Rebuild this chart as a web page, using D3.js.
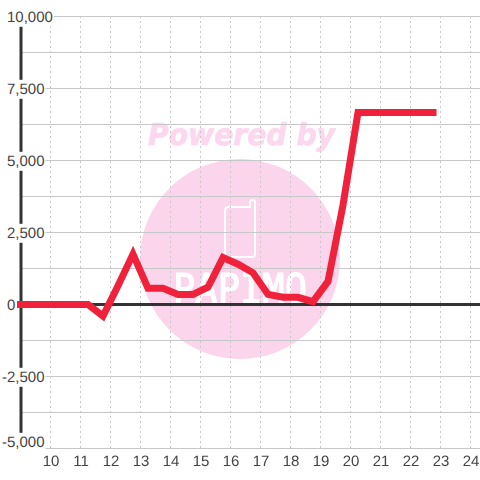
<!DOCTYPE html>
<html>
<head>
<meta charset="utf-8">
<script src="https://cdn.jsdelivr.net/npm/d3@7"></script>
<style>
html, body { margin: 0; padding: 0; background: #fff; }
svg { display: block; will-change: opacity; }
text { font-family: "Liberation Sans", Arial, sans-serif; text-rendering: geometricPrecision; }
</style>
</head>
<body>
<div id="chart"></div>
<script>
const w = 480;
const h = 480;

const hours = [9, 9.75, 10.25, 10.75, 11.25, 11.75, 12.25, 12.75, 13.25, 13.75, 14.25, 14.75, 15.25, 15.75, 16.25, 16.75, 17.25, 17.75, 18.25, 18.75, 19.25, 19.75, 20.25, 20.75, 21.25, 21.75, 22.25, 22.75];
const profit = [0, 0, 0, 0, 0, -400, 650, 1750, 560, 560, 350, 350, 600, 1630, 1400, 1100, 350, 250, 250, 100, 800, 3450, 6670, 6670, 6670, 6670, 6670, 6670];
const xTicks = [10, 11, 12, 13, 14, 15, 16, 17, 18, 19, 20, 21, 22, 23, 24];
const yLabelTicks = [-5000, -2500, 0, 2500, 5000, 7500, 10000];
const yGridTicks = [-5000, -3750, -2500, -1250, 0, 1250, 2500, 3750, 5000, 6250, 7500, 8750, 10000];

const x = d3.scaleLinear().domain([9, 24.33]).range([20.5, 480.4]);
const y = d3.scaleLinear().domain([-5000, 10000]).range([448.5, 16.5]);

const svg = d3.select('#chart').append('svg')
  .attr('width', w)
  .attr('height', h);

// watermark
const mark = svg.append('g');
mark.append('circle')
  .attr('cx', 240).attr('cy', 259).attr('r', 100)
  .attr('fill', '#fbd5ec');
mark.append('text')
  .attr('x', 148).attr('y', 145)
  .attr('textLength', 187)
  .attr('lengthAdjust', 'spacingAndGlyphs')
  .style('font-family', '"DejaVu Sans"')
  .style('font-weight', 'bold')
  .style('font-style', 'italic')
  .style('font-size', '30px')
  .attr('fill', '#fcd7ee')
  .attr('stroke', '#fcd7ee')
  .attr('stroke-width', 0.7)
  .text('Powered by');
mark.append('path')
  .attr('d', 'M229 207H250V202Q250 200 252.500 200Q255 200 255 202V254Q255 257 252 257H228Q225 257 225 254V211Q225 207 229 207Z')
  .attr('fill', 'none')
  .attr('stroke', '#fff')
  .attr('stroke-width', 2);
mark.append('text')
  .attr('x', 173).attr('y', 303)
  .attr('textLength', 134)
  .attr('lengthAdjust', 'spacingAndGlyphs')
  .style('font-family', '"DejaVu Sans Mono"')
  .style('font-size', '41px')
  .attr('fill', '#fff')
  .attr('stroke', '#fff')
  .attr('stroke-width', 1.2)
  .text('PAPIMO');

// grid
svg.append('g')
  .selectAll('line')
  .data(yGridTicks)
  .enter()
  .append('line')
  .attr('x1', 20).attr('x2', w)
  .attr('y1', d => y(d)).attr('y2', d => y(d))
  .attr('stroke', '#c8c8c8')
  .attr('stroke-width', 1);

svg.append('g')
  .selectAll('line')
  .data(xTicks)
  .enter()
  .append('line')
  .attr('x1', d => x(d)).attr('x2', d => x(d))
  .attr('y1', 16).attr('y2', 448)
  .attr('stroke', '#c8c8c8')
  .attr('stroke-width', 1)
  .attr('stroke-dasharray', '2,3');

// zero line
svg.append('line')
  .attr('x1', 20).attr('x2', w)
  .attr('y1', y(0)).attr('y2', y(0))
  .attr('stroke', '#333')
  .attr('stroke-width', 3);

// axes
const yAxis = d3.axisLeft(y).tickValues(yLabelTicks).tickSize(0).tickFormat(d => d3.format(',')(d).replace('\u2212', '-'));
const yG = svg.append('g')
  .attr('transform', 'translate(20.5,0)')
  .call(yAxis);
yG.select('.domain')
  .attr('stroke', '#333')
  .attr('stroke-width', 3);
yG.selectAll('text')
  .attr('x', d => d < 0 ? -18.5 : -13.5)
  .attr('y', d => d === -5000 ? -7 : 0)
  .attr('dy', '0.32em')
  .style('text-anchor', 'start')
  .style('font-size', '15px')
  .attr('fill', '#444');
yG.selectAll('.tick').each(function () {
  const t = d3.select(this).select('text');
  const b = t.node().getBBox();
  d3.select(this).insert('rect', 'text')
    .attr('x', b.x - 1).attr('y', b.y - 1)
    .attr('width', b.width + 2).attr('height', b.height + 2)
    .attr('fill', '#fff');
});

const xAxis = d3.axisBottom(x).tickValues(xTicks).tickSize(0).tickFormat(d3.format('d'));
const xG = svg.append('g')
  .attr('transform', 'translate(0,448)')
  .call(xAxis);
xG.select('.domain').remove();
xG.selectAll('text')
  .attr('y', 7)
  .style('font-size', '15px')
  .attr('fill', '#444');

// line
const line = d3.line()
  .x((d, i) => x(hours[i]))
  .y(d => y(d));

svg.append('path')
  .datum(profit)
  .attr('d', line)
  .attr('fill', 'none')
  .attr('stroke', '#f0213a')
  .attr('stroke-width', 7)
  .attr('stroke-linecap', 'square')
  .attr('stroke-linejoin', 'miter');
</script>
</body>
</html>
